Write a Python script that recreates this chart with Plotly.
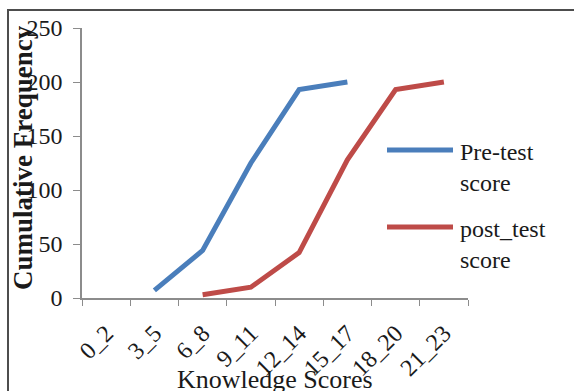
import plotly.graph_objects as go

# Knowledge score bands and cumulative frequencies
score_bands = ["0_2", "3_5", "6_8", "9_11", "12_14", "15_17", "18_20", "21_23"]
pre_test = [None, 7, 44, 125, 193, 200, None, None]
post_test = [None, None, 3, 10, 42, 128, 193, 200]
series_names = ["Pre-test<br>score", "post_test<br>score"]
series_colors = ["#4a7ebb", "#be4b48"]
y_ticks = [0, 50, 100, 150, 200, 250]

SERIF = "Liberation Serif, Times New Roman, serif"

# plot area in pixels
W, H = 574, 391
L, R, T, B = 82, 468, 28, 298


def px_x(p):
    return (p - L) / (R - L)


def px_y(p):
    return (B - p) / (B - T)


fig = go.Figure()
for name, vals, col in zip(series_names, [pre_test, post_test], series_colors):
    fig.add_trace(go.Scatter(
        x=score_bands, y=vals, mode="lines", name=name,
        line=dict(color=col, width=5), connectgaps=False,
        showlegend=False,
    ))

# legend keys drawn beside the plot
legend_rows = [(150, 185), (227, 262)]
for (y1, y2), name, col in zip(legend_rows, series_names, series_colors):
    fig.add_shape(type="line", xref="paper", yref="paper",
                  x0=px_x(387), x1=px_x(453), y0=px_y(y1), y1=px_y(y1),
                  line=dict(color=col, width=5))
    fig.add_annotation(xref="paper", yref="paper", x=px_x(458), y=px_y((y1 + y2) / 2),
                       text=name, showarrow=False, xanchor="left", yanchor="middle",
                       align="left", font=dict(family=SERIF, size=24, color="#1a1a1a"))

# axis titles
fig.add_annotation(xref="paper", yref="paper", x=0.5, y=px_y(379),
                   text="Knowledge Scores", showarrow=False,
                   xanchor="center", yanchor="middle",
                   font=dict(family=SERIF, size=26, color="#1a1a1a"))
fig.add_annotation(xref="paper", yref="paper", x=px_x(23), y=px_y(158),
                   text="<b>Cumulative Frequency</b>", showarrow=False, textangle=-90,
                   xanchor="center", yanchor="middle",
                   font=dict(family=SERIF, size=27, color="#1a1a1a"))

# outer frame (top and left edges)
fig.add_shape(type="path", xref="paper", yref="paper",
              path=f"M {px_x(8)},{px_y(400)} L {px_x(8)},{px_y(10)} L {px_x(580)},{px_y(10)}",
              line=dict(color="#4d4d4d", width=2))

fig.update_layout(
    width=W, height=H,
    margin=dict(l=L, r=W - R, t=T, b=H - B, autoexpand=False),
    paper_bgcolor="white", plot_bgcolor="white",
    font=dict(family=SERIF, color="#1a1a1a"),
)
fig.update_xaxes(
    type="category", range=[-0.5, 7.5], tickangle=-45, automargin=False,
    showline=True, linecolor="#8c8c8c", linewidth=1.5,
    ticks="outside", tickson="boundaries", ticklen=6, tickcolor="#8c8c8c",
    showgrid=False, zeroline=False, ticklabelstandoff=10,
    tickfont=dict(family=SERIF, size=24, color="#1a1a1a"),
)
fig.update_yaxes(
    range=[0, 250], tickvals=y_ticks, automargin=False,
    showline=True, linecolor="#8c8c8c", linewidth=1.5,
    ticks="outside", ticklen=7, tickcolor="#8c8c8c",
    showgrid=False, zeroline=False, ticklabelstandoff=6,
    tickfont=dict(family=SERIF, size=24, color="#1a1a1a"),
)

fig.write_html("out.html")
